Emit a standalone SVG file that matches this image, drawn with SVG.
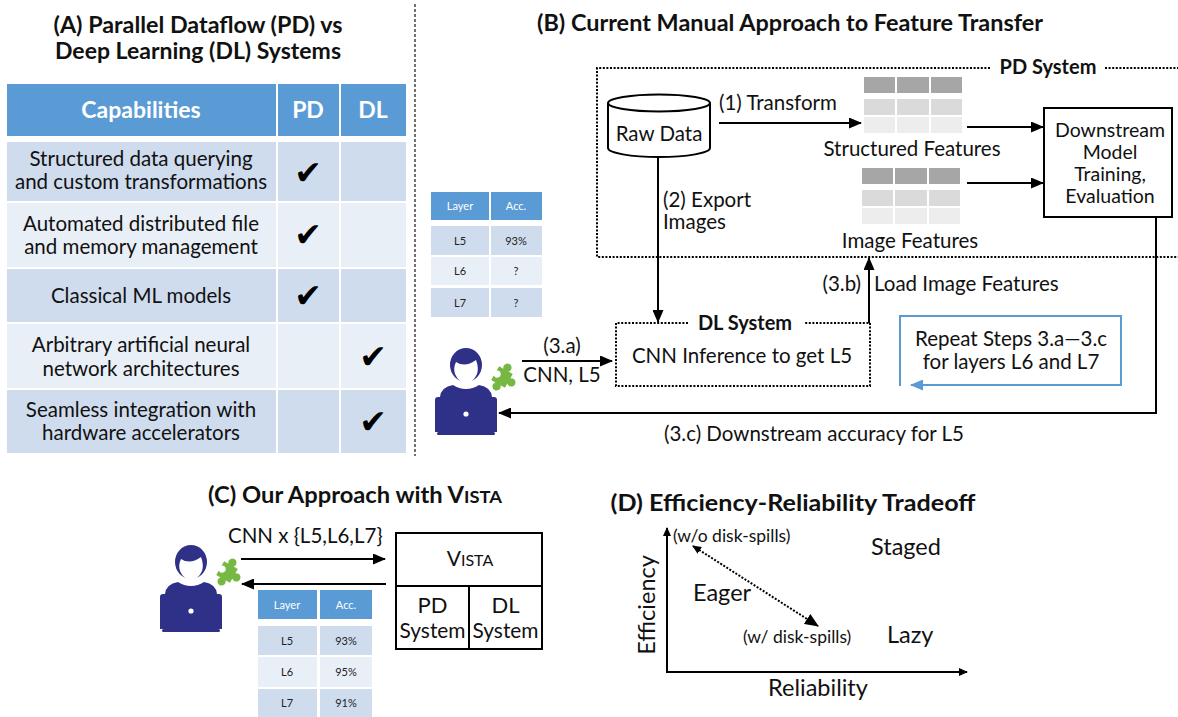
<svg xmlns="http://www.w3.org/2000/svg" width="1178" height="717" viewBox="0 0 1178 717">
  <style>
    text { font-family: Lato, "Liberation Sans", sans-serif; fill: #111; }
    .title { font-size: 22px; font-weight: bold; }
    .lbl { font-size: 20.5px; }
    .hdr { font-size: 23px; font-weight: bold; fill: #fff; }
    .cap { font-size: 20.5px; }
    .chk { font-family: "DejaVu Sans", sans-serif; font-size: 33px; fill: #000; }
    .th { fill: #5b9bd5; }
    .dk { fill: #cfdcee; }
    .lt { fill: #e9eff7; }
    .sh { font-size: 11px; fill: #fff; }
    .sc { font-size: 11px; fill: #222; }
    .line { stroke: #000; stroke-width: 2; fill: none; }
    .dot { stroke: #000; stroke-width: 2; fill: none; stroke-dasharray: 2 1.6; }
    .user { fill: #2e3187; }
    .puz { fill: #77b843; }
    .big { font-size: 23.5px; }
    .note { font-size: 17.5px; }
    .sys { font-size: 22px; }
  </style>
  <defs>
    <marker id="ah" markerUnits="userSpaceOnUse" markerWidth="13" markerHeight="11" refX="12" refY="5.5" orient="auto">
      <path d="M0,0 L13,5.5 L0,11 z" fill="#000"/>
    </marker>
    <marker id="ahb" markerUnits="userSpaceOnUse" markerWidth="13" markerHeight="11" refX="12" refY="5.5" orient="auto">
      <path d="M0,0 L13,5.5 L0,11 z" fill="#5b9bd5"/>
    </marker>
    <marker id="ahs" markerUnits="userSpaceOnUse" markerWidth="9" markerHeight="8" refX="8" refY="4" orient="auto">
      <path d="M0,0 L9,4 L0,8 z" fill="#000"/>
    </marker>
    <marker id="ahs0" markerUnits="userSpaceOnUse" markerWidth="9" markerHeight="8" refX="1" refY="4" orient="auto">
      <path d="M9,0 L0,4 L9,8 z" fill="#000"/>
    </marker>
    <marker id="ahl" markerUnits="userSpaceOnUse" markerWidth="14" markerHeight="12" refX="13" refY="6" orient="auto">
      <path d="M0,0 L14,6 L0,12 z" fill="#000"/>
    </marker>
    <!-- user at a laptop, 62 x 88 -->
    <symbol id="person" viewBox="0 0 62 88" width="62" height="88">
      <ellipse cx="31" cy="17" rx="16" ry="17" class="user"/>
      <path d="M21,14 Q30,20 41,12 Q44,20 42,26 Q38,35 31,35 Q24,35 20,26 Q18,20 21,14 z" fill="#fff"/>
      <path d="M5,49 Q6,39 18,37 Q24,41 31,41 Q38,41 44,37 Q56,39 57,49 z" class="user"/>
      <path d="M0,52 Q0,49 3,49 H59 Q62,49 62,52 V84 H0 z" class="user"/>
      <rect x="2" y="84" width="58" height="3" rx="1.5" class="user"/>
      <circle cx="31" cy="66" r="2.6" fill="#fff"/>
    </symbol>
    <!-- jigsaw piece -->
    <symbol id="puzzle" viewBox="-14 -14 28 28" width="34" height="34">
      <path class="puz" transform="rotate(30)" d="M-6.5,-6.5 H-2.4 A3.4,3.4 0 1 1 2.4,-6.5 H6.5 V-2.4 A3.4,3.4 0 1 1 6.5,2.4 V6.5 H2.4 A3.4,3.4 0 1 1 -2.4,6.5 H-6.5 V2.4 A3,3 0 1 0 -6.5,-2.4 Z"/>
    </symbol>
  </defs>

  <rect width="1178" height="717" fill="#fff"/>

  <!-- panel A: capability table -->
  <g id="panelA">
    <text class="title" x="198" y="33" text-anchor="middle" textLength="289" lengthAdjust="spacingAndGlyphs">(A) Parallel Dataflow (PD) vs</text>
    <text class="title" x="198" y="59" text-anchor="middle" textLength="286" lengthAdjust="spacingAndGlyphs">Deep Learning (DL) Systems</text>
    <rect x="7" y="84" width="269" height="52" class="th"/>
    <rect x="278" y="84" width="61" height="52" class="th"/>
    <rect x="341" y="84" width="65" height="52" class="th"/>
    <text class="hdr" x="141" y="118" text-anchor="middle">Capabilities</text>
    <text class="hdr" x="308" y="118" text-anchor="middle">PD</text>
    <text class="hdr" x="373" y="118" text-anchor="middle">DL</text>

    <g id="rowA1">
      <rect x="7" y="142" width="269" height="59" class="dk"/>
      <rect x="278" y="142" width="61" height="59" class="dk"/>
      <rect x="341" y="142" width="65" height="59" class="dk"/>
      <text class="cap" x="141" y="166" text-anchor="middle">Structured data querying</text>
      <text class="cap" x="141" y="189" text-anchor="middle">and custom transformations</text>
      <text class="chk" x="308" y="184" text-anchor="middle">✔</text>
    </g>
    <g id="rowA2">
      <rect x="7" y="203" width="269" height="64" class="lt"/>
      <rect x="278" y="203" width="61" height="64" class="lt"/>
      <rect x="341" y="203" width="65" height="64" class="lt"/>
      <text class="cap" x="141" y="231" text-anchor="middle">Automated distributed file</text>
      <text class="cap" x="141" y="254" text-anchor="middle">and memory management</text>
      <text class="chk" x="308" y="246" text-anchor="middle">✔</text>
    </g>
    <g id="rowA3">
      <rect x="7" y="269" width="269" height="53" class="dk"/>
      <rect x="278" y="269" width="61" height="53" class="dk"/>
      <rect x="341" y="269" width="65" height="53" class="dk"/>
      <text class="cap" x="141" y="303" text-anchor="middle">Classical ML models</text>
      <text class="chk" x="308" y="307" text-anchor="middle">✔</text>
    </g>
    <g id="rowA4">
      <rect x="7" y="324" width="269" height="64" class="lt"/>
      <rect x="278" y="324" width="61" height="64" class="lt"/>
      <rect x="341" y="324" width="65" height="64" class="lt"/>
      <text class="cap" x="141" y="352" text-anchor="middle">Arbitrary artificial neural</text>
      <text class="cap" x="141" y="376" text-anchor="middle">network architectures</text>
      <text class="chk" x="373" y="368" text-anchor="middle">✔</text>
    </g>
    <g id="rowA5">
      <rect x="7" y="390" width="269" height="63" class="dk"/>
      <rect x="278" y="390" width="61" height="63" class="dk"/>
      <rect x="341" y="390" width="65" height="63" class="dk"/>
      <text class="cap" x="141" y="417" text-anchor="middle">Seamless integration with</text>
      <text class="cap" x="141" y="440" text-anchor="middle">hardware accelerators</text>
      <text class="chk" x="373" y="433" text-anchor="middle">✔</text>
    </g>
  </g>

  <!-- divider between A and B -->
  <line x1="415" y1="4" x2="415" y2="456" stroke="#444" stroke-width="1.5" stroke-dasharray="3 2"/>

  <!-- panel B -->
  <text class="title" x="790" y="31" text-anchor="middle" textLength="506" lengthAdjust="spacingAndGlyphs">(B) Current Manual Approach to Feature Transfer</text>

  <g id="pdSystem">
    <path class="dot" d="M990,68 H597 V257 H1178 M1105,68 H1178"/>
    <text x="1048" y="74" text-anchor="middle" font-size="20" font-weight="bold">PD System</text>
  </g>

  <g id="rawData">
    <path d="M608,103 V148 A51,9 0 0 0 710,148 V103" fill="#fff" stroke="#000" stroke-width="2"/>
    <ellipse cx="659" cy="103" rx="51" ry="8.5" fill="#fff" stroke="#000" stroke-width="2"/>
    <text class="lbl" x="659" y="141" text-anchor="middle">Raw Data</text>
  </g>

  <g id="structuredFeatures">
    <rect x="864" y="77" width="31" height="16" fill="#a6a6a6"/>
    <rect x="897" y="77" width="32" height="16" fill="#a6a6a6"/>
    <rect x="931" y="77" width="31" height="16" fill="#a6a6a6"/>
    <rect x="864" y="99" width="31" height="16" fill="#dadada"/>
    <rect x="897" y="99" width="32" height="16" fill="#dadada"/>
    <rect x="931" y="99" width="31" height="16" fill="#dadada"/>
    <rect x="864" y="117" width="31" height="16" fill="#ededed"/>
    <rect x="897" y="117" width="32" height="16" fill="#ededed"/>
    <rect x="931" y="117" width="31" height="16" fill="#ededed"/>
    <text class="lbl" x="912" y="156" text-anchor="middle">Structured Features</text>
  </g>

  <g id="imageFeatures">
    <rect x="862" y="168" width="31" height="16" fill="#a6a6a6"/>
    <rect x="895" y="168" width="32" height="16" fill="#a6a6a6"/>
    <rect x="929" y="168" width="31" height="16" fill="#a6a6a6"/>
    <rect x="862" y="190" width="31" height="16" fill="#dadada"/>
    <rect x="895" y="190" width="32" height="16" fill="#dadada"/>
    <rect x="929" y="190" width="31" height="16" fill="#dadada"/>
    <rect x="862" y="208" width="31" height="16" fill="#ededed"/>
    <rect x="895" y="208" width="32" height="16" fill="#ededed"/>
    <rect x="929" y="208" width="31" height="16" fill="#ededed"/>
    <text class="lbl" x="910" y="248" text-anchor="middle">Image Features</text>
  </g>

  <g id="downstream">
    <rect x="1044" y="108" width="128" height="109" fill="#fff" stroke="#000" stroke-width="2"/>
    <text x="1110" y="137" text-anchor="middle" font-size="19.5">Downstream</text>
    <text x="1110" y="159" text-anchor="middle" font-size="19.5">Model</text>
    <text x="1110" y="181" text-anchor="middle" font-size="19.5">Training,</text>
    <text x="1110" y="203" text-anchor="middle" font-size="19.5">Evaluation</text>
  </g>

  <g id="layerTableB">
    <rect x="431" y="192" width="58" height="28" class="th"/>
    <rect x="491" y="192" width="51" height="28" class="th"/>
    <text class="sh" x="460" y="210" text-anchor="middle">Layer</text>
    <text class="sh" x="516" y="210" text-anchor="middle">Acc.</text>
    <rect x="431" y="226" width="58" height="29" class="dk"/>
    <rect x="491" y="226" width="51" height="29" class="dk"/>
    <text class="sc" x="460" y="245" text-anchor="middle">L5</text>
    <text class="sc" x="516" y="245" text-anchor="middle">93%</text>
    <rect x="431" y="257" width="58" height="28" class="lt"/>
    <rect x="491" y="257" width="51" height="28" class="lt"/>
    <text class="sc" x="460" y="275" text-anchor="middle">L6</text>
    <text class="sc" x="516" y="275" text-anchor="middle">?</text>
    <rect x="431" y="288" width="58" height="29" class="dk"/>
    <rect x="491" y="288" width="51" height="29" class="dk"/>
    <text class="sc" x="460" y="307" text-anchor="middle">L7</text>
    <text class="sc" x="516" y="307" text-anchor="middle">?</text>
  </g>

  <g id="dlSystem">
    <path class="dot" d="M688,323 H616 V386 H870 V323 H804"/>
    <text x="745" y="330" text-anchor="middle" font-size="20" font-weight="bold">DL System</text>
    <text class="lbl" x="742" y="363" text-anchor="middle">CNN Inference to get L5</text>
  </g>

  <g id="repeatNote">
    <text class="lbl" x="1011" y="346" text-anchor="middle">Repeat Steps 3.a—3.c</text>
    <text class="lbl" x="1011" y="369" text-anchor="middle">for layers L6 and L7</text>
  </g>

  <g id="userB">
    <use href="#person" x="435" y="348"/>
    <use href="#puzzle" x="485" y="360"/>
  </g>

  <!-- panel C -->
  <text class="title" x="355" y="503" text-anchor="middle" textLength="294" lengthAdjust="spacingAndGlyphs">(C) Our Approach with V<tspan font-size="17">ISTA</tspan></text>

  <g id="userC">
    <use href="#person" x="160" y="545"/>
    <use href="#puzzle" x="210" y="555"/>
  </g>

  <g id="vista">
    <rect x="396" y="533" width="146" height="116" fill="#fff" stroke="#000" stroke-width="2"/>
    <line x1="396" y1="586" x2="542" y2="586" stroke="#000" stroke-width="2"/>
    <line x1="469" y1="586" x2="469" y2="649" stroke="#000" stroke-width="2"/>
    <text x="470" y="566" text-anchor="middle" font-size="21">V<tspan font-size="16">ISTA</tspan></text>
    <text class="sys" x="432.5" y="613" text-anchor="middle">PD</text>
    <text class="sys" x="432.5" y="638" text-anchor="middle" textLength="66" lengthAdjust="spacingAndGlyphs">System</text>
    <text class="sys" x="505.5" y="613" text-anchor="middle">DL</text>
    <text class="sys" x="505.5" y="638" text-anchor="middle" textLength="66" lengthAdjust="spacingAndGlyphs">System</text>
  </g>

  <g id="layerTableC">
    <rect x="258" y="590" width="59" height="29" class="th"/>
    <rect x="320" y="590" width="52" height="29" class="th"/>
    <text class="sh" x="287" y="609" text-anchor="middle">Layer</text>
    <text class="sh" x="346" y="609" text-anchor="middle">Acc.</text>
    <rect x="258" y="626" width="59" height="29" class="dk"/>
    <rect x="320" y="626" width="52" height="29" class="dk"/>
    <text class="sc" x="287" y="645" text-anchor="middle">L5</text>
    <text class="sc" x="346" y="645" text-anchor="middle">93%</text>
    <rect x="258" y="657" width="59" height="30" class="lt"/>
    <rect x="320" y="657" width="52" height="30" class="lt"/>
    <text class="sc" x="287" y="676" text-anchor="middle">L6</text>
    <text class="sc" x="346" y="676" text-anchor="middle">95%</text>
    <rect x="258" y="689" width="59" height="28" class="dk"/>
    <rect x="320" y="689" width="52" height="28" class="dk"/>
    <text class="sc" x="287" y="707" text-anchor="middle">L7</text>
    <text class="sc" x="346" y="707" text-anchor="middle">91%</text>
  </g>

  <!-- panel D -->
  <text class="title" x="793" y="511" text-anchor="middle" textLength="365" lengthAdjust="spacingAndGlyphs">(D) Efficiency-Reliability Tradeoff</text>
  <g id="chartD">
    <text class="big" x="655" y="605" text-anchor="middle" transform="rotate(-90 655 605)">Efficiency</text>
    <text class="big" x="818" y="696" text-anchor="middle">Reliability</text>
    <text class="note" x="673" y="542">(w/o disk-spills)</text>
    <text class="note" x="743" y="643">(w/ disk-spills)</text>
    <text class="big" x="871" y="555">Staged</text>
    <text class="big" x="693" y="601">Eager</text>
    <text class="big" x="887" y="643">Lazy</text>
  </g>

  <!-- connectors -->
  <g id="connectors">
    <path class="line" d="M719,123 H861" marker-end="url(#ah)"/>
    <text class="lbl" x="719" y="110">(1) Transform</text>
    <path class="line" d="M967,127 H1043" marker-end="url(#ah)"/>
    <path class="line" d="M967,183 H1043" marker-end="url(#ah)"/>
    <path class="line" d="M658,157 V322" marker-end="url(#ah)"/>
    <text class="lbl" x="663" y="207">(2) Export</text>
    <text class="lbl" x="663" y="229">Images</text>
    <path class="line" d="M869,323 V258" marker-end="url(#ah)"/>
    <text class="lbl" x="861" y="291" text-anchor="end">(3.b)</text>
    <text class="lbl" x="874" y="291">Load Image Features</text>
    <path class="line" d="M522,361 H612" marker-end="url(#ah)"/>
    <text class="lbl" x="562" y="353" text-anchor="middle">(3.a)</text>
    <text class="lbl" x="562" y="382" text-anchor="middle">CNN, L5</text>
    <path class="line" d="M1156,217 V413 H499" marker-end="url(#ah)"/>
    <text class="lbl" x="814" y="441" text-anchor="middle">(3.c) Downstream accuracy for L5</text>
    <path d="M900,386 V316 H1121 V385 H911" fill="none" stroke="#5b9bd5" stroke-width="2" marker-end="url(#ahb)"/>

    <path class="line" d="M241,559 H385" marker-end="url(#ah)"/>
    <text class="lbl" x="228" y="543">CNN x {L5,L6,L7}</text>
    <path class="line" d="M386,584 H242" marker-end="url(#ah)"/>

    <path class="line" d="M667,673 V528" marker-end="url(#ahs)"/>
    <path class="line" d="M666,672 H967" marker-end="url(#ahs)"/>
    <path class="dot" d="M693,546 L818,626" marker-start="url(#ahs0)" marker-end="url(#ahl)"/>
  </g>
</svg>
